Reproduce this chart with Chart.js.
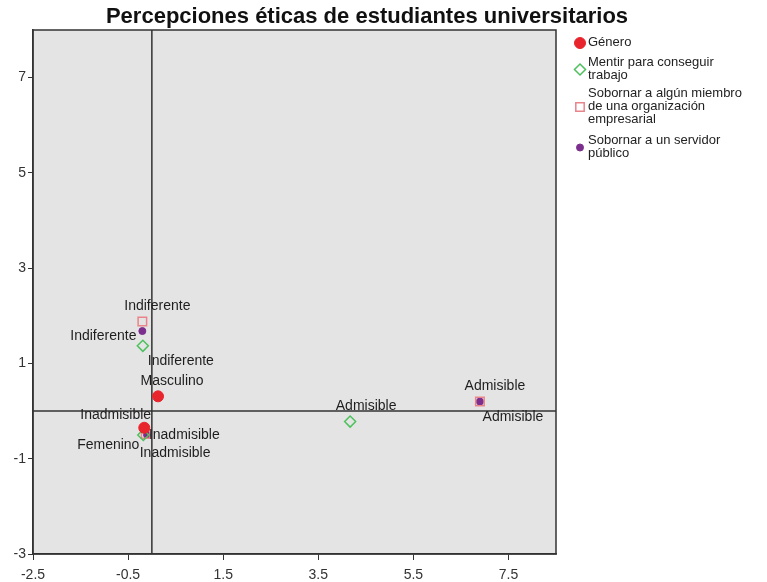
<!DOCTYPE html>
<html>
<head>
<meta charset="utf-8">
<script src="https://cdn.jsdelivr.net/npm/chart.js@4.4.0/dist/chart.umd.min.js"></script>
<style>
  html, body { margin: 0; padding: 0; background: #fff; }
</style>
</head>
<body>
<canvas id="grafico" width="767" height="582"></canvas>
<script>
const titulo = 'Percepciones éticas de estudiantes universitarios'
const xTicks = [-2.5, -0.5, 1.5, 3.5, 5.5, 7.5]
const yTicks = [-3, -1, 1, 3, 5, 7]

// categorias y coordenadas (dimension 1, dimension 2)
const generoCat = ['Masculino', 'Femenino']
const generoX = [0.13, -0.16]
const generoY = [0.31, -0.35]

const respuestaCat = ['Indiferente', 'Inadmisible', 'Admisible']
const mentirX = [-0.19, -0.18, 4.17]
const mentirY = [1.37, -0.5, -0.22]
const empresaX = [-0.2, -0.13, 6.9]
const empresaY = [1.88, -0.48, 0.2]
const servidorX = [-0.2, -0.1, 6.9]
const servidorY = [1.68, -0.5, 0.2]

const series = [
    { nombre: 'Género', lineas: ['Género'], cat: generoCat, x: generoX, y: generoY },
    { nombre: 'Mentir para conseguir trabajo', lineas: ['Mentir para conseguir', 'trabajo'], cat: respuestaCat, x: mentirX, y: mentirY },
    { nombre: 'Sobornar a algún miembro de una organización empresarial', lineas: ['Sobornar a algún miembro', 'de una organización', 'empresarial'], cat: respuestaCat, x: empresaX, y: empresaY },
    { nombre: 'Sobornar a un servidor público', lineas: ['Sobornar a un servidor', 'público'], cat: respuestaCat, x: servidorX, y: servidorY }
]

// estilos de los marcadores
const estilos = [
    { pointStyle: 'circle', radius: 5.5, bg: '#e8252d', border: '#e8252d', bw: 1 },
    { pointStyle: 'rectRot', radius: 5.5, bg: 'rgba(0,0,0,0)', border: '#4cc15c', bw: 1.5 },
    { pointStyle: 'rect', radius: 6, bg: 'rgba(0,0,0,0)', border: '#e9848a', bw: 1.5 },
    { pointStyle: 'circle', radius: 3.5, bg: '#7b2e8d', border: '#7b2e8d', bw: 1 }
]

// desplazamiento de cada etiqueta respecto a su punto (px)
const desfase = [
    [[14, -15], [-36, 17]],
    [[38, 15], [41, 0], [16, -15]],
    [[15, -15], [-30, -19], [33, 16]],
    [[-39, 5], [28, 18], [15, -15]]
]

// leyenda: y de la primera linea de cada serie
const leyendaY = [42, 62, 93, 140]

const datasets = series.map((s, i) => ({
    label: s.nombre,
    data: s.x.map((v, j) => ({ x: v, y: s.y[j] })),
    pointStyle: estilos[i].pointStyle,
    pointRadius: estilos[i].radius,
    pointHoverRadius: estilos[i].radius,
    backgroundColor: estilos[i].bg,
    borderColor: estilos[i].border,
    pointBorderWidth: estilos[i].bw
}))

const fuente = '"Liberation Sans", Arial, sans-serif'

function marcador(ctx, tipo, x, y, r, i) {
    ctx.save()
    ctx.beginPath()
    if (tipo === 'circle') {
        ctx.arc(x, y, r, 0, Math.PI * 2)
    } else if (tipo === 'rectRot') {
        ctx.moveTo(x, y - r); ctx.lineTo(x + r, y); ctx.lineTo(x, y + r); ctx.lineTo(x - r, y); ctx.closePath()
    } else {
        const a = r * 0.7
        ctx.rect(x - a, y - a, a * 2, a * 2)
    }
    ctx.fillStyle = estilos[i].bg
    ctx.fill()
    ctx.lineWidth = estilos[i].bw
    ctx.strokeStyle = estilos[i].border
    ctx.stroke()
    ctx.restore()
}

const decorado = {
    id: 'decorado',
    beforeDraw(chart) {
        const { ctx, chartArea: a } = chart
        ctx.save()
        ctx.fillStyle = '#e4e4e4'
        ctx.fillRect(a.left, a.top, a.right - a.left, a.bottom - a.top)
        ctx.restore()
    },
    beforeDatasetsDraw(chart) {
        const { ctx, chartArea: a, scales } = chart
        const x0 = scales.x.getPixelForValue(0)
        const y0 = scales.y.getPixelForValue(0)
        ctx.save()
        ctx.strokeStyle = '#333'
        ctx.lineWidth = 1.5
        ctx.beginPath()
        ctx.moveTo(x0, a.top); ctx.lineTo(x0, a.bottom)
        ctx.moveTo(a.left, y0); ctx.lineTo(a.right, y0)
        ctx.stroke()
        ctx.strokeRect(a.left, a.top, a.right - a.left, a.bottom - a.top)
        ctx.restore()
    },
    afterDatasetsDraw(chart) {
        const ctx = chart.ctx
        ctx.save()
        ctx.font = '14px ' + fuente
        ctx.fillStyle = '#1e1e1e'
        ctx.textAlign = 'center'
        ctx.textBaseline = 'middle'
        series.forEach((s, i) => {
            const meta = chart.getDatasetMeta(i)
            meta.data.forEach((p, j) => {
                ctx.fillText(s.cat[j], p.x + desfase[i][j][0], p.y + desfase[i][j][1])
            })
        })
        ctx.restore()
    },
    afterDraw(chart) {
        const ctx = chart.ctx
        ctx.save()
        ctx.fillStyle = '#111'
        ctx.font = 'bold 22px ' + fuente
        ctx.textAlign = 'center'
        ctx.textBaseline = 'middle'
        ctx.fillText(titulo, 367, 17)

        // leyenda a la derecha
        ctx.font = '13px ' + fuente
        ctx.textAlign = 'left'
        ctx.fillStyle = '#222'
        series.forEach((s, i) => {
            const y = leyendaY[i]
            const centro = y + (s.lineas.length - 1) * 13 / 2
            marcador(ctx, estilos[i].pointStyle, 580, centro + 1, estilos[i].radius, i)
            s.lineas.forEach((l, k) => ctx.fillText(l, 588, y + k * 13))
        })
        ctx.restore()
    }
}

new Chart(document.getElementById('grafico'), {
    type: 'scatter',
    data: { datasets: datasets },
    options: {
        responsive: false,
        animation: false,
        layout: { padding: { top: 30, right: 211, left: 0, bottom: 0 } },
        plugins: { legend: { display: false }, tooltip: { enabled: false } },
        scales: {
            x: {
                type: 'linear', min: -2.5, max: 8.5,
                afterBuildTicks: s => { s.ticks = xTicks.map(v => ({ value: v })) },
                afterFit: s => { s.height = 28 },
                grid: { drawOnChartArea: false, drawTicks: true, tickLength: 6, color: '#333' },
                border: { display: true, color: '#333', width: 1.5 },
                ticks: { color: '#333', font: { size: 14, family: fuente }, padding: 7, maxRotation: 0, callback: v => v }
            },
            y: {
                type: 'linear', min: -3, max: 8,
                afterBuildTicks: s => { s.ticks = yTicks.map(v => ({ value: v })) },
                afterFit: s => { s.width = 33 },
                grid: { drawOnChartArea: false, drawTicks: true, tickLength: 5, color: '#333' },
                border: { display: true, color: '#333', width: 1.5 },
                ticks: { color: '#333', font: { size: 14, family: fuente }, padding: 2, callback: v => v }
            }
        }
    },
    plugins: [decorado]
})
</script>
</body>
</html>
